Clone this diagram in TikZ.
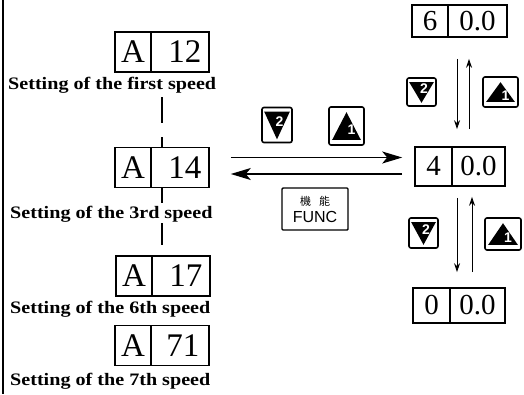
\documentclass[tikz,border=0pt]{standalone}
\usepackage{fontspec}
\setmainfont{Liberation Serif}
\setsansfont{Liberation Sans}
\newfontfamily\cjkfont{Noto Sans CJK TC}
\usetikzlibrary{arrows.meta}
\newcommand\twocell[4]{\makebox[#1][c]{#3}\makebox[#2][c]{#4}}
\newcommand\capttext[1]{\scalebox{1.15}[1]{#1}}
\tikzset{
  dbox/.style n args={3}{draw, line width=1.6pt, inner sep=0pt, minimum height=#2,
    font=\fontsize{#3}{#3}\selectfont,
    path picture={\draw[line width=1.4pt] ([xshift=#1]path picture bounding box.north west) -- ([xshift=#1]path picture bounding box.south west);}},
  capt/.style={anchor=base west, inner sep=0pt, font=\bfseries\fontsize{17.5pt}{20pt}\selectfont},
  conn/.style={line width=1.3pt},
  harrow/.style={line width=1.3pt, -{Stealth[length=20pt,width=12pt,inset=5pt]}},
  varrow/.style={line width=1pt, -{Stealth[length=9pt,width=6pt]}},
  keybox/.style={draw, line width=1.6pt, rounded corners=2pt, inner sep=0pt},
  keynum/.style={text=white, font=\sffamily\bfseries\fontsize{14pt}{14pt}\selectfont, inner sep=0pt},
}
\newcommand\dnkey[4]{%
  \node[keybox, minimum width=#3, minimum height=#4] (#1) at #2 {};
  \fill ([xshift=3pt,yshift=-5pt]#1.north west) -- ([xshift=-3pt,yshift=-5pt]#1.north east) -- ([yshift=4pt]#1.south) -- cycle;
  \node[keynum] (#1n) at ([xshift=2.5pt,yshift=3.5pt]#1.center) {2};}
\newcommand\upkey[4]{%
  \node[keybox, minimum width=#3, minimum height=#4] (#1) at #2 {};
  \fill ([yshift=-6pt]#1.north) -- ([xshift=-4pt,yshift=6pt]#1.south east) -- ([xshift=4pt,yshift=6pt]#1.south west) -- cycle;
  \node[keynum] (#1n) at ([xshift=5pt,yshift=-4pt]#1.center) {1};}
\begin{document}
\begin{tikzpicture}[x=1pt,y=-1pt]
\useasboundingbox (0,0) rectangle (524,394);
\draw[line width=1.6pt] (3,0) -- (3,394);
% left column
\node[dbox={36pt}{40pt}{33pt}] (A12) at (162,52) {\twocell{36pt}{58pt}{A}{\hspace{10pt}12}};
\node[capt] (cap1) at (8,89) {\capttext{Setting of the first speed}};
\node[dbox={36pt}{40pt}{33pt}] (A14) at (162,167.5) {\twocell{36pt}{58pt}{A}{\hspace{10pt}14}};
\node[capt] (cap3) at (10,218) {\capttext{Setting of the 3rd speed}};
\node[dbox={36pt}{40pt}{33pt}] (A17) at (163,276) {\twocell{36pt}{58pt}{A}{\hspace{10pt}17}};
\node[capt] (cap6) at (10,313) {\capttext{Setting of the 6th speed}};
\node[dbox={36pt}{40pt}{33pt}] (A71) at (162,345.5) {\twocell{36pt}{58pt}{A}{\hspace{6pt}71}};
\node[capt] (cap7) at (10,385) {\capttext{Setting of the 7th speed}};
\coordinate (c17) at (162,245);
\draw[conn, dash pattern=on 26pt off 14pt on 30pt, shorten <=4pt] (cap1.south -| A14.north) -- (A14.north);
\draw[conn, shorten >=2pt] (A14.south) -- (A14.south |- cap3.north);
\draw[conn, shorten <=1pt] (A14.south |- cap3.south) -- (c17);
% right column
\node[dbox={36pt}{32pt}{29pt}] (b6) at (459.5,21) {\twocell{36pt}{59pt}{6}{0.0}};
\node[dbox={37pt}{39pt}{29pt}] (b4) at (460,166.5) {\twocell{37pt}{53pt}{4}{0.0}};
\node[dbox={37pt}{35pt}{29pt}] (b0) at (459,305.5) {\twocell{37pt}{55pt}{0}{0.0}};
% keys
\dnkey{kd1}{(277,125)}{30pt}{35pt}
\upkey{ku1}{(346.5,126)}{35pt}{38pt}
\dnkey{kd2}{(421.5,92)}{29pt}{28pt}
\upkey{ku2}{(500.5,92)}{35pt}{30pt}
\dnkey{kd3}{(423.5,233)}{29pt}{30pt}
\upkey{ku3}{(503,234)}{36pt}{32pt}
\node[draw, line width=1.4pt, rounded corners=1pt, minimum width=66pt, minimum height=42pt, inner sep=0pt, align=center,
  font=\sffamily\fontsize{16pt}{17pt}\selectfont] (func) at (315,209)
  {{\cjkfont\fontsize{11pt}{12pt}\selectfont 機\hspace{8pt}能}\\FUNC};
% horizontal arrows
\draw[harrow, shorten <=21pt, shorten >=12pt] ([yshift=10pt]A14.east) -- ([yshift=10pt]A14.east -| b4.west);
\draw[harrow, shorten <=12pt, shorten >=21pt] ([yshift=-7.5pt]b4.west) -- ([yshift=-7.5pt]b4.west -| A14.east);
% vertical arrows
\draw[varrow, shorten <=21pt, shorten >=17pt] ([xshift=-2.5pt]b6.south) -- ([xshift=-2.5pt]b6.south |- b4.north);
\draw[varrow, shorten <=17pt, shorten >=21pt] ([xshift=9.5pt]b6.south |- b4.north) -- ([xshift=9.5pt]b6.south);
\draw[varrow, shorten <=11pt, shorten >=15pt] ([xshift=-3pt]b4.south) -- ([xshift=-3pt]b4.south |- b0.north);
\draw[varrow, shorten <=15pt, shorten >=10pt] ([xshift=12pt]b4.south |- b0.north) -- ([xshift=12pt]b4.south);
\end{tikzpicture}
\end{document}
